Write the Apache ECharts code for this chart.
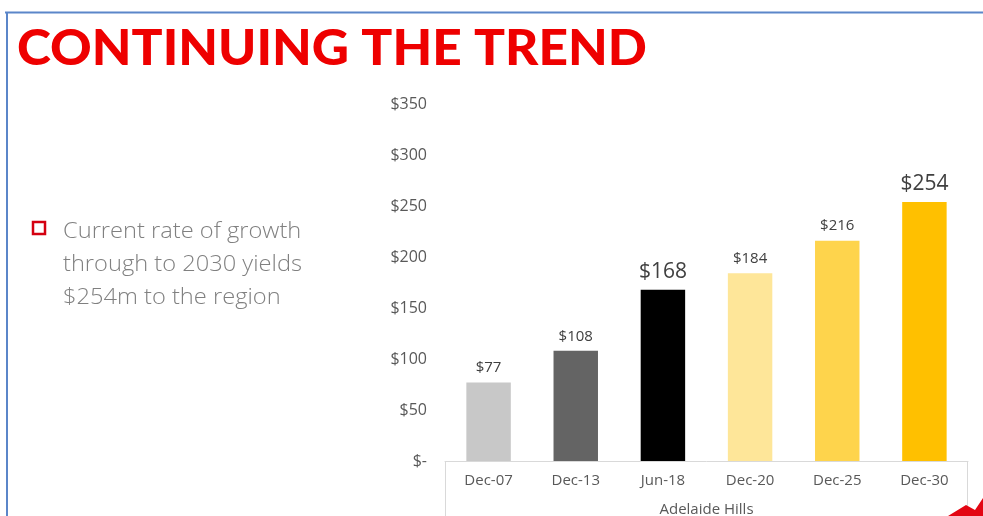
<!DOCTYPE html>
<html><head><meta charset="utf-8">
<script src="https://cdn.jsdelivr.net/npm/echarts@6/dist/echarts.min.js"></script>
<style>html,body{margin:0;padding:0;background:#fff}#c{width:983px;height:516px}</style>
</head><body><div id="c"></div>
<script>
const categories = ['Dec-07','Dec-13','Jun-18','Dec-20','Dec-25','Dec-30'];
const values = [77,108,168,184,216,254];
const barColors = ['#c8c8c8','#646464','#000000','#fee699','#fed44c','#ffc000'];
const bigLabel = [false,false,true,false,false,true];
const yTicks = [0,50,100,150,200,250,300,350];

const FONT = 'Open Sans';
const chart = echarts.init(document.getElementById('c'));
chart.setOption({
  animation:false,
  grid:{left:445,right:15,top:104,bottom:55,containLabel:false,outerBoundsMode:'none'},
  xAxis:{type:'category',data:categories,
    axisLine:{lineStyle:{color:'#d9d9d9'}},axisTick:{show:false},
    axisLabel:{color:'#595959',fontSize:15,fontFamily:FONT,margin:12},
    name:'Adelaide Hills',nameLocation:'middle',nameGap:41,
    nameTextStyle:{color:'#595959',fontSize:15,fontFamily:FONT}},
  yAxis:{type:'value',min:0,max:350,interval:50,
    axisLine:{show:false},axisTick:{show:false},splitLine:{show:false},
    axisLabel:{color:'#595959',fontSize:16,fontFamily:FONT,margin:18,
      formatter:v=>v===0?'$-':'$'+v}},
  series:[{type:'bar',barWidth:'51%',
    data:values.map((v,i)=>({value:v,itemStyle:{color:barColors[i]},
      label:{fontSize:bigLabel[i]?21:15}})),
    label:{show:true,position:'top',distance:7,color:'#404040',fontFamily:FONT,
      formatter:p=>'$'+p.value}}],
  graphic:[
    {type:'line',shape:{x1:5,y1:12.5,x2:983,y2:12.5},style:{stroke:'#5b86c9',lineWidth:2}},
    {type:'line',shape:{x1:7,y1:12,x2:7,y2:516},style:{stroke:'#5b86c9',lineWidth:2}},
    {type:'text',x:17,y:25,scaleX:1.05,style:{text:'CONTINUING THE TREND',fill:'#ee0000',
      font:'900 49px Lato'}},
    {type:'rect',shape:{x:33,y:222,width:12,height:12},style:{fill:'none',stroke:'#d40010',lineWidth:2.5}},
    {type:'text',x:63,y:215,scaleX:1.1,style:{text:'Current rate of growth\nthrough to 2030 yields\n$254m to the region',
      fill:'#808080',font:'300 21.5px "Open Sans"',lineHeight:33}},
    {type:'line',shape:{x1:445.5,y1:461,x2:445.5,y2:516},style:{stroke:'#d9d9d9',lineWidth:1}},
    {type:'line',shape:{x1:967.5,y1:461,x2:967.5,y2:516},style:{stroke:'#d9d9d9',lineWidth:1}},
    {type:'polygon',shape:{points:[[948,516],[966,505],[975,510],[983,498],[983,516]]},style:{fill:'#e30613'}}
  ]
});
</script></body></html>
